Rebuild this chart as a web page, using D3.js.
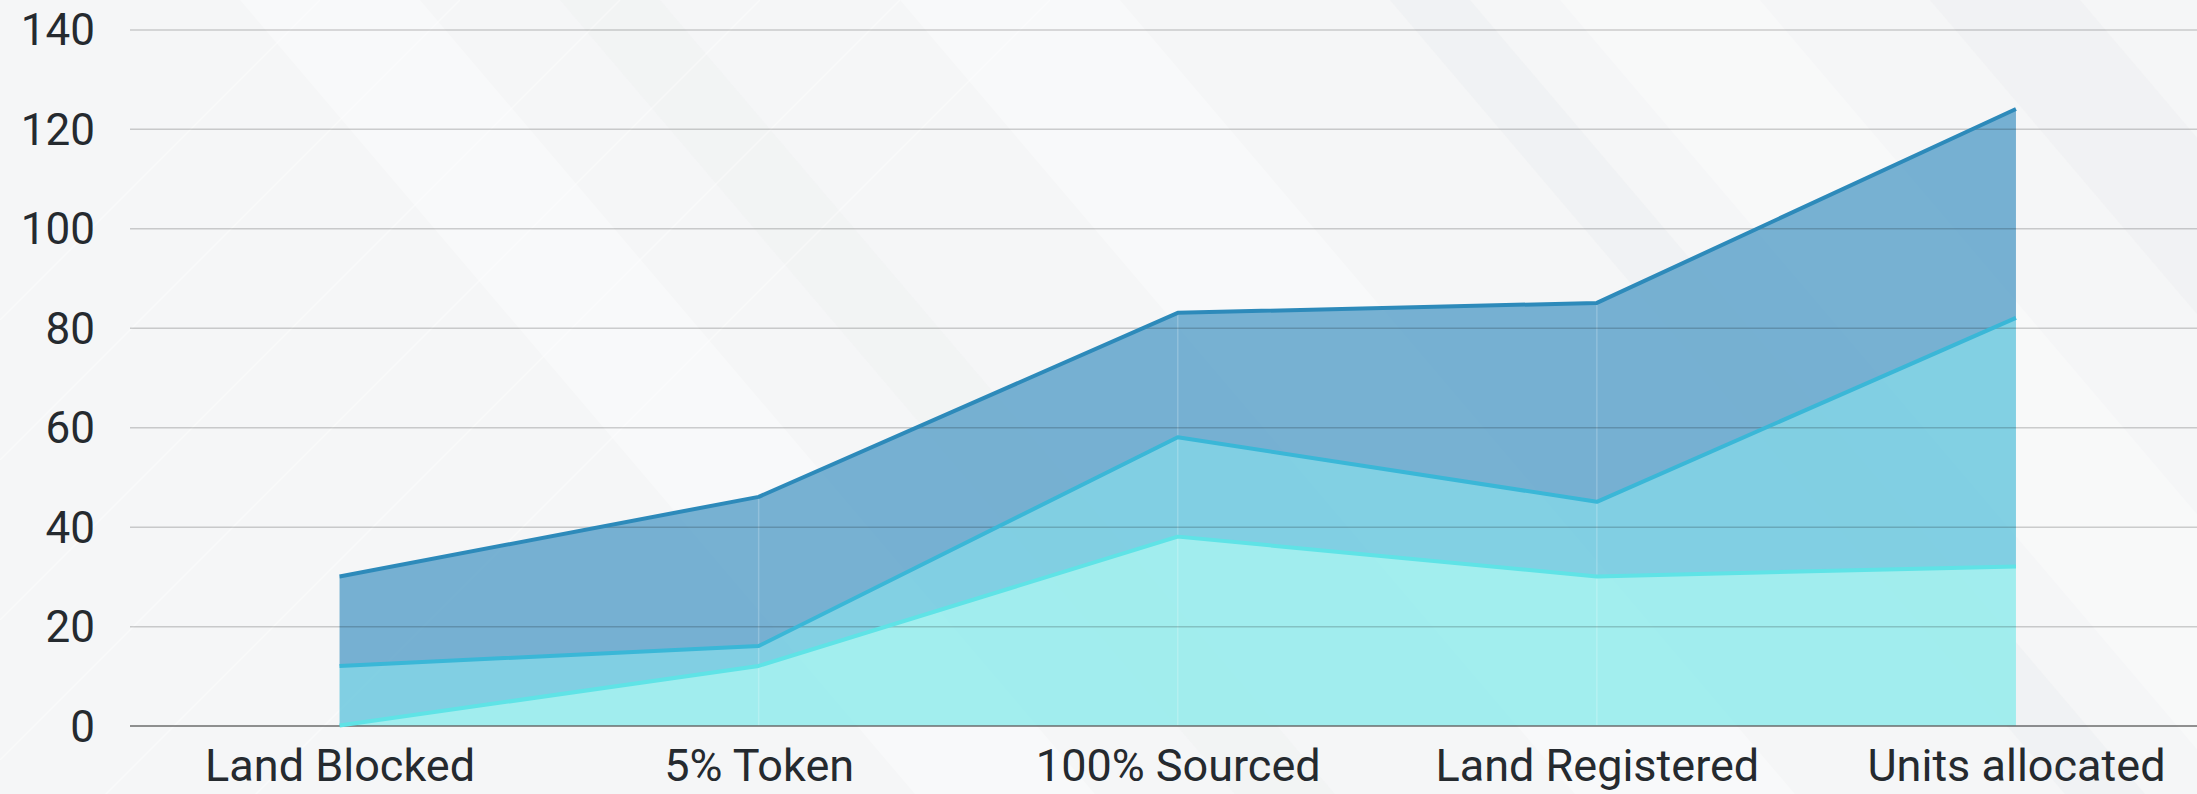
<!DOCTYPE html>
<html>
<head>
<meta charset="utf-8">
<script src="https://cdn.jsdelivr.net/npm/d3@7"></script>
<style>
  html, body { margin: 0; padding: 0; background: #f5f6f7; overflow: hidden; }
  .chart text { font-family: Roboto, "Noto Sans", sans-serif; fill: #252a2f; }
</style>
</head>
<body>
<div class="chart"></div>
<script>
// data
const stages = ["Land Blocked", "5% Token", "100% Sourced", "Land Registered", "Units allocated"];
const seriesTop = [30, 46, 83, 85, 124];
const seriesMid = [12, 16, 58, 45, 82];
const seriesLow = [0, 12, 38, 30, 32];
const yTicks = [0, 20, 40, 60, 80, 100, 120, 140];

let W = 2197, H = 794;
let margin = { top: 29.4, left: 130, bottom: H - 725.6 },
  width = 2095.5,
  height = H - margin.top - margin.bottom;

let root = d3.select(".chart")
  .append("svg")
  .attr("width", W)
  .attr("height", H)
  .style("display", "block");

// background texture (diagonal bands)
let bg = root.append("g");
bg.append("rect").attr("width", W).attr("height", H).attr("fill", "#f5f6f7");
const k = 0.85;
[[240, 420, "#ffffff", 0.35], [560, 660, "#eceef0", 0.3], [900, 1120, "#ffffff", 0.35],
 [1390, 1470, "#e9ebed", 0.35], [1560, 1760, "#ffffff", 0.3], [1930, 2080, "#eaeced", 0.35]]
  .forEach(b => {
    bg.append("polygon")
      .attr("points", [[b[0], 0], [b[1], 0], [b[1] + k * H, H], [b[0] + k * H, H]].join(" "))
      .attr("fill", b[2])
      .attr("opacity", b[3]);
  });
[120, 260, 420, 560, 700, 850].forEach(s => {
  bg.append("line")
    .attr("x1", 0).attr("y1", s + 200)
    .attr("x2", s + 200).attr("y2", 0)
    .attr("stroke", "#ffffff").attr("stroke-width", 1.5).attr("opacity", 0.45);
});

let svg = root.append("g")
  .attr("transform", "translate(" + margin.left + "," + margin.top + ")");

// SCALES
let x = d3.scalePoint().domain(stages).range([0, width]).padding(0.5);
let y = d3.scaleLinear().domain([0, 140]).range([height, 0]);

// AREAS (stacked bands between the lines)
let band = (upper, lower) => d3.area()
  .x((d, i) => x(stages[i]))
  .y0((d, i) => y(lower ? lower[i] : 0))
  .y1((d, i) => y(upper[i]));

svg.append("path").datum(seriesTop).attr("d", band(seriesTop, seriesMid))
  .attr("fill", "#68a9cd").attr("opacity", 0.9);
svg.append("path").datum(seriesMid).attr("d", band(seriesMid, seriesLow))
  .attr("fill", "#74cbe0").attr("opacity", 0.9);
svg.append("path").datum(seriesLow).attr("d", band(seriesLow, null))
  .attr("fill", "#98ecec").attr("opacity", 0.9);

// faint seams at each category
svg.selectAll(".seam")
  .data(stages.slice(1, -1))
  .enter()
  .append("line")
  .attr("class", "seam")
  .attr("x1", d => x(d)).attr("x2", d => x(d))
  .attr("y1", y(0))
  .attr("y2", d => y(seriesTop[stages.indexOf(d)]))
  .attr("stroke", "#ffffff")
  .attr("stroke-width", 1.5)
  .attr("opacity", 0.2);

// GRID + Y AXIS
let yAxis = d3.axisLeft(y).tickValues(yTicks).tickSize(-(W - margin.left)).tickPadding(35);
let yAxisGroup = svg.append("g").attr("class", "y-axis").call(yAxis);
yAxisGroup.select(".domain").remove();
yAxisGroup.selectAll(".tick line")
  .attr("stroke", "#000")
  .attr("stroke-opacity", d => d === 0 ? 0.42 : 0.18)
  .attr("stroke-width", d => d === 0 ? 2 : 1.5);
yAxisGroup.selectAll(".tick text")
  .attr("font-size", 44)
  .attr("dy", "0.35em");

// LINES
let line = d3.line().x((d, i) => x(stages[i])).y(d => y(d));
[[seriesTop, "#2d8aba"], [seriesMid, "#3ab7d7"], [seriesLow, "#5fe3e6"]].forEach(s => {
  svg.append("path")
    .datum(s[0])
    .attr("d", line)
    .attr("fill", "none")
    .attr("stroke", s[1])
    .attr("stroke-width", 4)
    .attr("stroke-linejoin", "round");
});

// X AXIS
let xAxis = d3.axisBottom(x).tickSize(0).tickPadding(23);
let xAxisGroup = svg.append("g")
  .attr("class", "x-axis")
  .attr("transform", "translate(0," + height + ")")
  .call(xAxis);
xAxisGroup.select(".domain").remove();
xAxisGroup.selectAll(".tick text")
  .attr("font-size", 45)
  .attr("dy", "0.71em");
</script>
</body>
</html>
